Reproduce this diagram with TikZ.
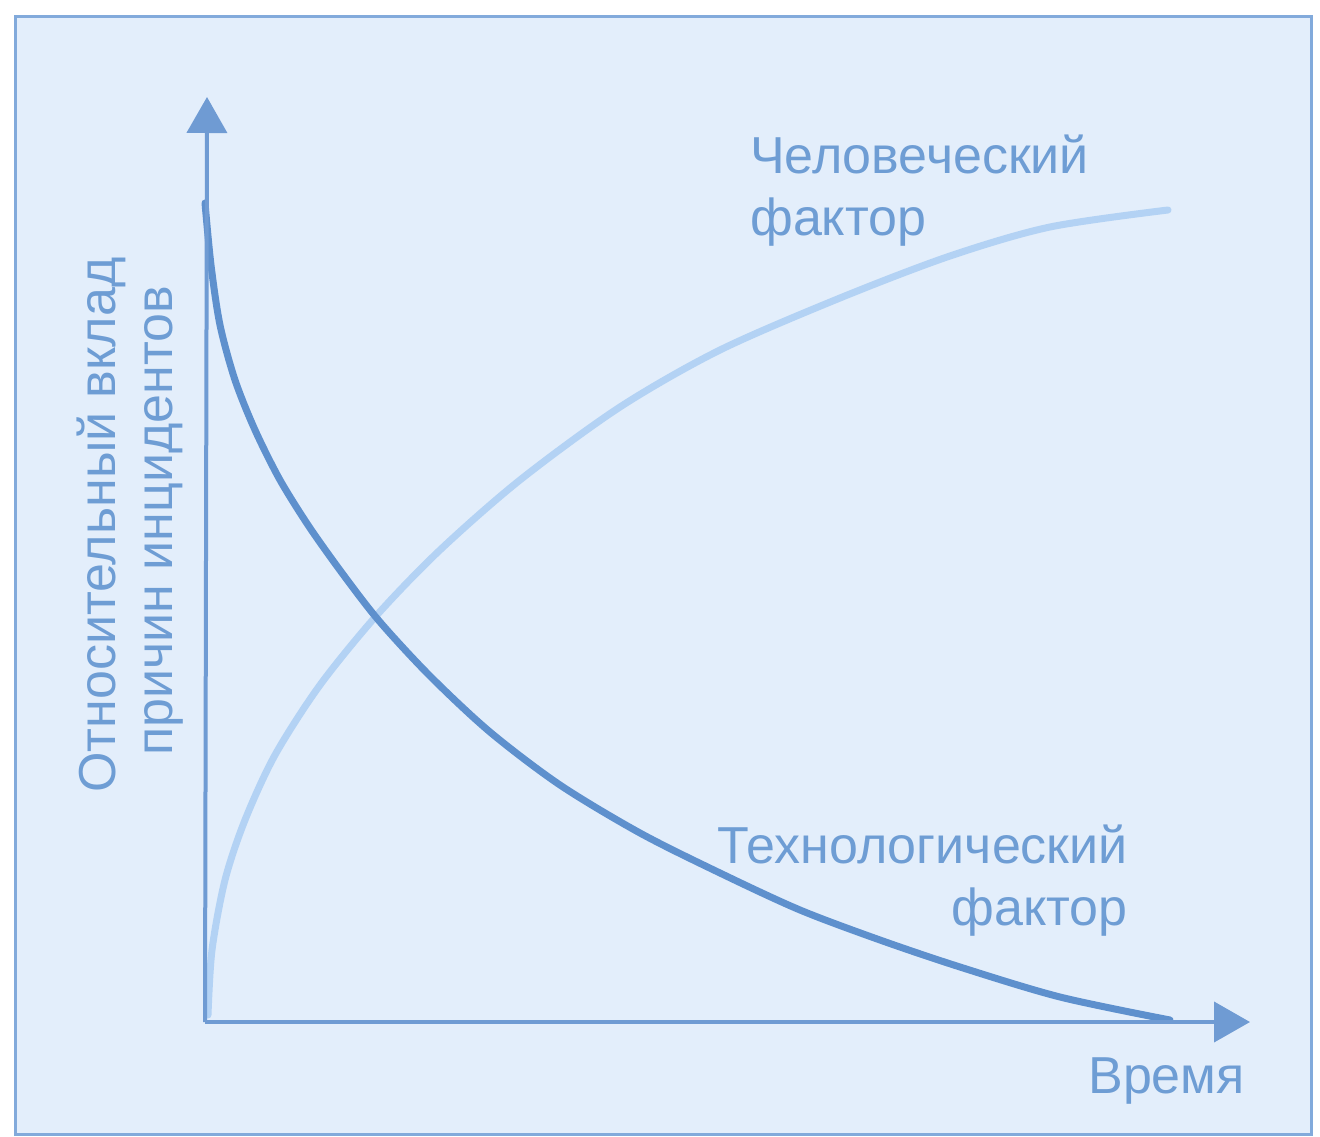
\documentclass[tikz,border=0pt]{standalone}
\usepackage{fontspec}
\setmainfont{Liberation Sans}
\usetikzlibrary{arrows.meta}
\definecolor{bgblue}{HTML}{E3EEFB}
\definecolor{frameblue}{HTML}{82AADB}
\definecolor{axisblue}{HTML}{6F9BD3}
\definecolor{darkcurve}{HTML}{5E90CD}
\definecolor{lightcurve}{HTML}{B3D2F4}
\definecolor{textblue}{HTML}{6E9DD4}
\tikzset{
  axisline/.style={draw=axisblue, line width=4pt, -{Triangle[length=36pt,width=40pt]}},
  curvedark/.style={draw=darkcurve, line width=7pt, line cap=round, line join=round},
  curvelight/.style={draw=lightcurve, line width=7pt, line cap=round, line join=round},
  lbl/.style={text=textblue, inner sep=0pt, font=\fontsize{52}{62}\selectfont},
}
\begin{document}
\begin{tikzpicture}[x=1pt,y=-1pt]
\useasboundingbox (0,0) rectangle (1320,1137);
\fill[white] (0,0) rectangle (1320,1137);
\filldraw[fill=bgblue, draw=frameblue, line width=3pt] (15,17) rectangle (1311,1134);

\coordinate (o) at (205,1022);
\coordinate (ytop) at (207,97);
\coordinate (xend) at (1250,1022);

% curves
\draw[curvelight] plot[smooth] coordinates {(208,1015) (212,950) (225,880) (245,820) (275,755) (320,685) (377,615) (440,550) (520,480) (620,407) (720,350) (840,298) (950,256) (1050,227) (1168,210)};
\draw[curvedark] plot[smooth] coordinates {(205,203) (211,265) (220,325) (235,380) (255,430) (280,480) (310,528) (345,577) (380,622) (430,676) (490,732) (560,785) (640,833) (720,873) (800,910) (880,940) (960,967) (1060,997) (1170,1020)};

% axes
\draw[axisline] (o) -- (ytop);
\draw[axisline] (o) -- (xend);

% labels
\node[lbl, anchor=base west, align=left] (human) at (750,235) {Человеческий\\фактор};
\node[lbl, anchor=base east, align=right] (tech) at (1128,925) {Технологический\\фактор};
\node[lbl, anchor=base east] (time) at (1245,1093) {Время};
\node[lbl, anchor=base, rotate=90] (ylab1) at (115,525) {Относительный вклад};
\node[lbl, anchor=base, rotate=90] (ylab2) at (172,521) {причин инцидентов};
\end{tikzpicture}
\end{document}
